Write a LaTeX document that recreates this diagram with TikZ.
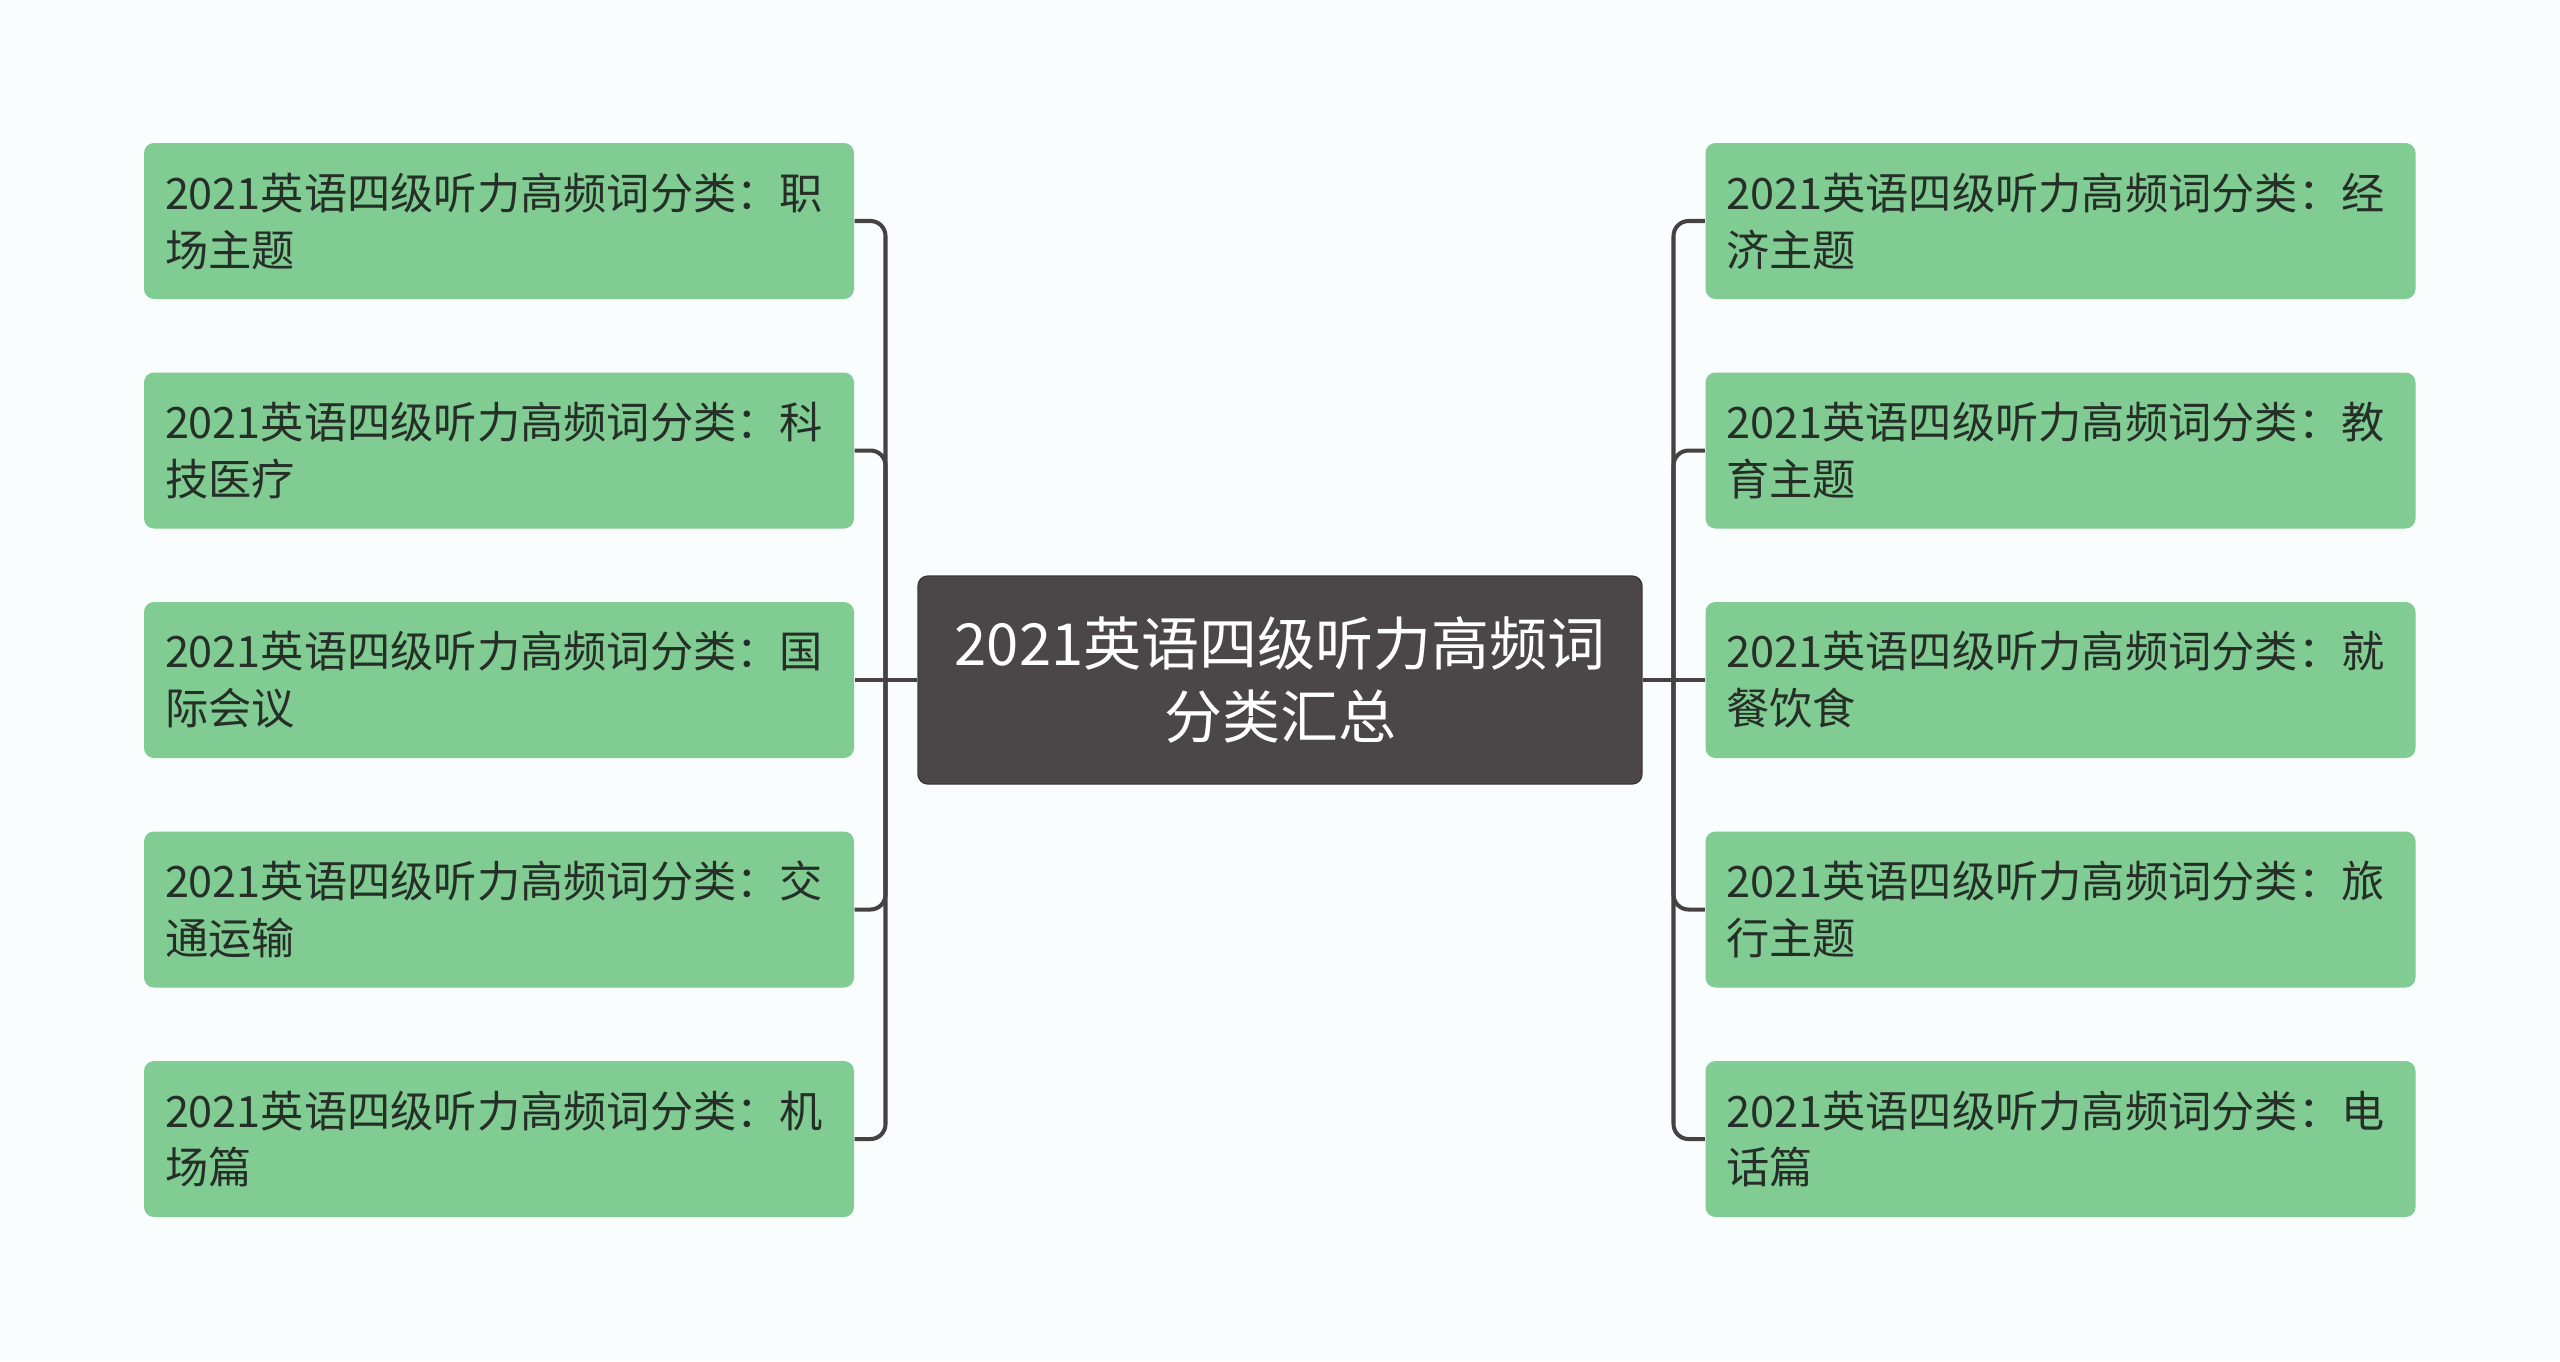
\documentclass[tikz,border=0pt]{standalone}
\usepackage{fontspec}
\newfontfamily\cjk{Noto Sans CJK SC}
\usepackage{tikz}
\usetikzlibrary{positioning, calc}

\definecolor{bgwhite}{RGB}{250,253,253}
\definecolor{leafgreen}{RGB}{128,204,146}
\definecolor{rootgray}{RGB}{75,70,71}
\definecolor{linegray}{RGB}{70,66,67}
\definecolor{leaftext}{RGB}{38,46,40}

\begin{document}
\begin{tikzpicture}[
  leaf/.style={fill=leafgreen, rounded corners=0.1cm, minimum width=7.10cm, minimum height=1.56cm,
    text width=6.68cm, align=left, inner sep=0.21cm, text=leaftext,
    font=\cjk\fontsize{12.3}{16.2}\selectfont},
  root/.style={fill=rootgray, draw=rootgray!80!black, line width=0.4pt, rounded corners=0.1cm,
    minimum width=7.24cm, minimum height=2.08cm, align=center, text=white,
    font=\cjk\fontsize{16.5}{20.7}\selectfont},
  link/.style={draw=linegray, line width=1.15pt, rounded corners=0.15cm}
]
  \fill[bgwhite] (0,0) rectangle (25.6,-13.61);
  \useasboundingbox (0,0) rectangle (25.6,-13.61);

  \node[root] (root) at (12.80,-6.80) {2021英语四级听力高频词\\分类汇总};

  % left side
  \node[leaf] (l1) at (4.99,-2.21) {2021英语四级听力高频词分类：职\\场主题};
  \node[leaf] (l2) at (4.99,-4.505) {2021英语四级听力高频词分类：科\\技医疗};
  \node[leaf] (l3) at (4.99,-6.80) {2021英语四级听力高频词分类：国\\际会议};
  \node[leaf] (l4) at (4.99,-9.095) {2021英语四级听力高频词分类：交\\通运输};
  \node[leaf] (l5) at (4.99,-11.39) {2021英语四级听力高频词分类：机\\场篇};

  % right side
  \node[leaf] (r1) at (20.605,-2.21) {2021英语四级听力高频词分类：经\\济主题};
  \node[leaf] (r2) at (20.605,-4.505) {2021英语四级听力高频词分类：教\\育主题};
  \node[leaf] (r3) at (20.605,-6.80) {2021英语四级听力高频词分类：就\\餐饮食};
  \node[leaf] (r4) at (20.605,-9.095) {2021英语四级听力高频词分类：旅\\行主题};
  \node[leaf] (r5) at (20.605,-11.39) {2021英语四级听力高频词分类：电\\话篇};

  \coordinate (lfork) at (8.855,-6.80);
  \coordinate (rfork) at (16.735,-6.80);

  \draw[link] (root.west) -- (l3.east);
  \draw[link] (root.east) -- (r3.west);
  \foreach \i in {1,2,4,5} {
    \draw[link] (lfork) |- (l\i.east);
    \draw[link] (rfork) |- (r\i.west);
  }
\end{tikzpicture}
\end{document}
